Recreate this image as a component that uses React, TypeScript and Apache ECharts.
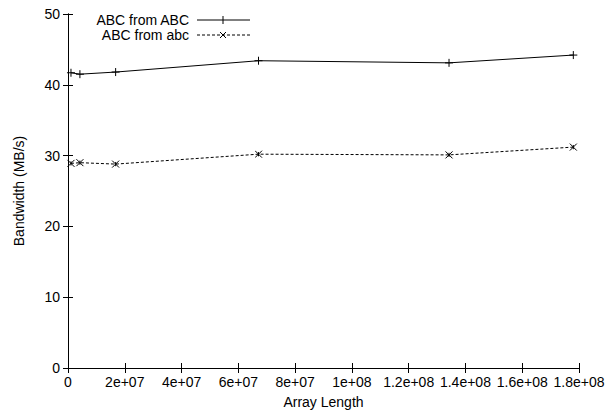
import React, { useEffect, useRef } from "react";
import * as echarts from "echarts";

const arrayLengths = [1048576, 4194304, 16777216, 67108864, 134217728, 178000000];
const abcFromABC = [41.7, 41.5, 41.8, 43.4, 43.1, 44.2];
const abcFromAbc = [28.9, 29.0, 28.8, 30.2, 30.1, 31.2];
const seriesNames = ["ABC from ABC", "ABC from abc"];
const xTickLabels = ["0", "2e+07", "4e+07", "6e+07", "8e+07", "1e+08", "1.2e+08", "1.4e+08", "1.6e+08", "1.8e+08"];
const xAxisTitle = "Array Length";
const yAxisTitle = "Bandwidth (MB/s)";

const FONT = "Liberation Sans, Arial, Helvetica, sans-serif";
const FS = 14;
const PLUS = "path://M5,0L5,10M0,5L10,5";
const CROSS = "path://M0,0L10,10M10,0L0,10M5,2L5,8";

export default function App() {
  const ref = useRef<HTMLDivElement>(null);
  useEffect(() => {
    if (!ref.current) return;
    const chart = echarts.init(ref.current, undefined, { renderer: "svg" });
    const X_MAX = 1.8e8;
    const X_INT = 2e7;
    const tickFmt = (v: number) => {
      const i = Math.round(v / X_INT);
      return xTickLabels[i] ?? "";
    };
    const common = {
      axisTick: { show: true, inside: true, length: 5, lineStyle: { color: "#000" } },
      axisLine: { show: true, lineStyle: { color: "#000", width: 1 } },
      splitLine: { show: false },
    };
    const left = 68, right = 579, top = 14, bottom = 368;
    const legendTextX = 189;
    const lx1 = 197, lx2 = 250, lmid = 223;
    const ly1 = 20, ly2 = 35;
    chart.setOption({
      animation: false,
      backgroundColor: "#fff",
      grid: { left, right: 606 - right, top, bottom: 410 - bottom, containLabel: false, outerBoundsMode: "none" },
      xAxis: [
        {
          type: "value", min: 0, max: X_MAX, interval: X_INT, position: "bottom",
          ...common,
          axisLabel: { show: true, formatter: tickFmt, color: "#000", fontFamily: FONT, fontSize: FS, margin: 7, hideOverlap: false, showMaxLabel: true, showMinLabel: true },
          name: xAxisTitle, nameLocation: "middle", nameGap: 27,
          nameTextStyle: { color: "#000", fontFamily: FONT, fontSize: FS },
        },
        {
          type: "value", min: 0, max: X_MAX, interval: X_INT, position: "top",
          ...common, axisLabel: { show: false },
        },
      ],
      yAxis: [
        {
          type: "value", min: 0, max: 50, interval: 10, position: "left",
          ...common,
          axisLabel: { show: true, color: "#000", fontFamily: FONT, fontSize: FS, margin: 8 },
          name: yAxisTitle, nameLocation: "middle", nameGap: 42,
          nameTextStyle: { color: "#000", fontFamily: FONT, fontSize: FS },
        },
        {
          type: "value", min: 0, max: 50, interval: 10, position: "right",
          ...common, axisLabel: { show: false },
        },
      ],
      series: [
        {
          name: seriesNames[0], type: "line",
          data: arrayLengths.map((x, i) => [x, abcFromABC[i]]),
          symbol: PLUS, symbolSize: 8, showSymbol: true,
          lineStyle: { color: "#000", width: 1 },
          itemStyle: { color: "none", borderColor: "#000", borderWidth: 1 },
        },
        {
          name: seriesNames[1], type: "line",
          data: arrayLengths.map((x, i) => [x, abcFromAbc[i]]),
          symbol: CROSS, symbolSize: 7, showSymbol: true,
          lineStyle: { color: "#000", width: 1, type: [3, 2] },
          itemStyle: { color: "none", borderColor: "#000", borderWidth: 1 },
        },
      ],
      graphic: [
        { type: "text", style: { text: seriesNames[0], x: legendTextX, y: ly1, align: "right", verticalAlign: "middle", font: `${FS}px ${FONT}`, fill: "#000" } },
        { type: "line", shape: { x1: lx1, y1: ly1, x2: lx2, y2: ly1 }, style: { stroke: "#000", lineWidth: 1 } },
        { type: "line", shape: { x1: lmid, y1: ly1 - 4, x2: lmid, y2: ly1 + 4 }, style: { stroke: "#000", lineWidth: 1 } },
        { type: "text", style: { text: seriesNames[1], x: legendTextX, y: ly2, align: "right", verticalAlign: "middle", font: `${FS}px ${FONT}`, fill: "#000" } },
        { type: "line", shape: { x1: lx1, y1: ly2, x2: lx2, y2: ly2 }, style: { stroke: "#000", lineWidth: 1, lineDash: [3, 2] } },
        { type: "line", shape: { x1: lmid - 3, y1: ly2 - 3, x2: lmid + 3, y2: ly2 + 3 }, style: { stroke: "#000", lineWidth: 1 } },
        { type: "line", shape: { x1: lmid - 3, y1: ly2 + 3, x2: lmid + 3, y2: ly2 - 3 }, style: { stroke: "#000", lineWidth: 1 } },
      ],
    });
    return () => chart.dispose();
  }, []);
  return <div ref={ref} style={{ width: 606, height: 410, position: "absolute", left: 0, top: 0 }} />;
}
